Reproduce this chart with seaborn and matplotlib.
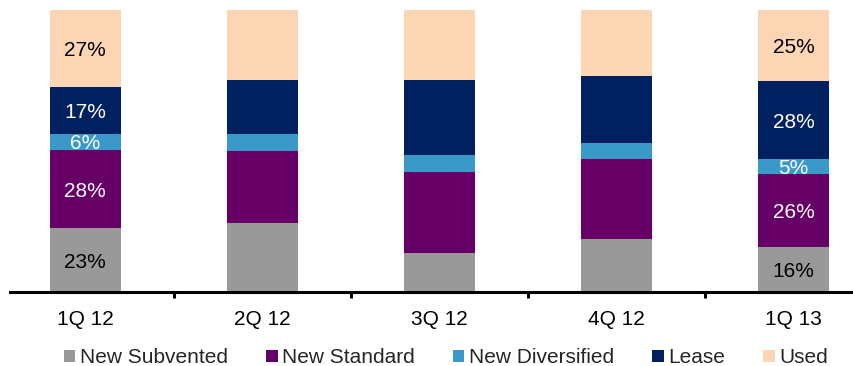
import matplotlib
matplotlib.use("Agg")
import matplotlib.pyplot as plt
import numpy as np
import seaborn as sns

# Quarterly origination mix (% of total)
quarters = ["1Q 12", "2Q 12", "3Q 12", "4Q 12", "1Q 13"]
new_subvented = [22.6, 24.6, 13.8, 18.7, 16.0]
new_standard = [27.9, 25.4, 28.7, 28.6, 26.0]
new_diversified = [5.6, 6.0, 6.0, 5.5, 5.0]
lease = [16.6, 19.3, 26.7, 23.8, 28.0]
used = [27.3, 24.7, 24.8, 23.4, 25.0]

series_names = ["New Subvented", "New Standard", "New Diversified", "Lease", "Used"]
series_colors = ["#999999", "#660066", "#3A99C9", "#012060", "#FCD5B4"]
label_colors = ["black", "white", "white", "white", "black"]

# Only these bars carry value labels
labelled_bars = [0, 4]

sns.set_theme(style="white")
plt.rcParams["font.family"] = ["Liberation Sans", "DejaVu Sans"]

fig = plt.figure(figsize=(8.54, 3.66), dpi=100)
ax = fig.add_axes([10 / 854, 0.202, 1 - 10 / 854, 0.7707])

all_series = [new_subvented, new_standard, new_diversified, lease, used]
bottom = np.zeros(len(quarters))
for name, vals, col, tcol in zip(series_names, all_series, series_colors, label_colors):
    vals = np.asarray(vals, dtype=float)
    sns.barplot(x=quarters, y=vals, bottom=bottom, color=col, width=0.4,
                label=name, ax=ax, saturation=1, linewidth=0)
    for i in labelled_bars:
        ax.text(i, bottom[i] + vals[i] / 2 - 0.8, f"{vals[i]:.0f}%", ha="center",
                va="center", color=tcol, fontsize=15)
    bottom += vals

ax.set_ylim(0, 100)
ax.set_xlim(-0.424, 4.342)
ax.set_ylabel("")
ax.set_yticks([])
for side in ["left", "right", "top"]:
    ax.spines[side].set_visible(False)
ax.spines["bottom"].set_color("black")
ax.spines["bottom"].set_linewidth(2.2)

ax.set_xticks(range(len(quarters)))
ax.set_xticklabels(quarters)
ax.set_xticks(np.arange(0.5, len(quarters) - 1, 1), minor=True)
ax.tick_params(axis="x", which="major", length=0, pad=13, labelsize=15,
               colors="black")
ax.tick_params(axis="x", which="minor", bottom=True, length=4, width=2.2,
               color="black", direction="out")

leg = ax.legend(loc="center", bbox_to_anchor=(0.522, 0.022), bbox_transform=fig.transFigure,
                ncol=5, frameon=False, fontsize=15, handlelength=0.55,
                handleheight=0.55, handletextpad=0.2, columnspacing=1.85,
                borderpad=0)

fig.savefig("out.png", dpi=100)
